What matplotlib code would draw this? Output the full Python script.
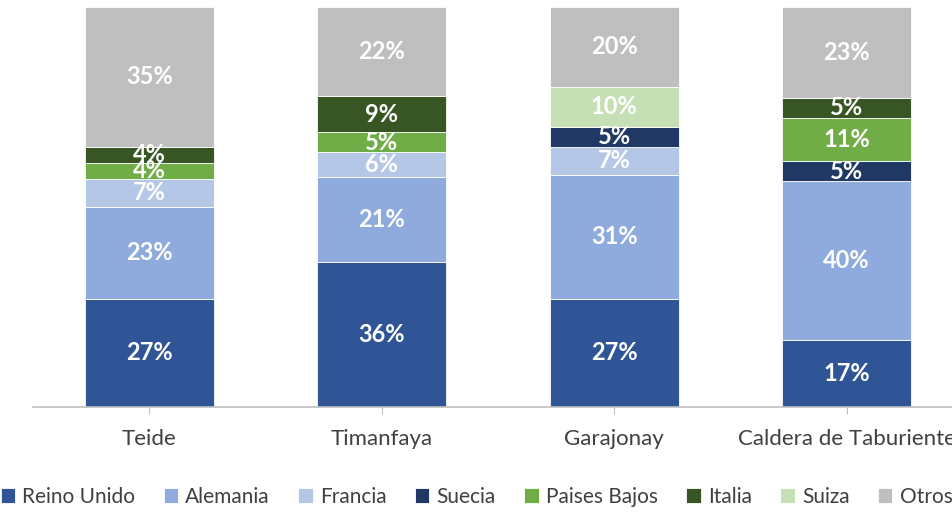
import numpy as np
import matplotlib.pyplot as plt

plt.rcParams['font.family'] = ['Lato', 'DejaVu Sans']

parques = ['Teide', 'Timanfaya', 'Garajonay', 'Caldera de Taburiente']
paises = ['Reino Unido', 'Alemania', 'Francia', 'Suecia', 'Paises Bajos', 'Italia', 'Suiza', 'Otros']

reino_unido = [27, 36, 27, 17]
alemania = [23, 21, 31, 40]
francia = [7, 6, 7, 0]
suecia = [0, 0, 5, 5]
paises_bajos = [4, 5, 0, 11]
italia = [4, 9, 0, 5]
suiza = [0, 0, 10, 0]
otros = [35, 22, 20, 23]

colores = ['#2F5597', '#8FAADC', '#B4C7E7', '#203864', '#70AD47', '#375623', '#C5E0B4', '#BFBFBF']

series = np.array([reino_unido, alemania, francia, suecia, paises_bajos, italia, suiza, otros], dtype=float)
# 100% stacked: each bar scaled to its own total
share = series / series.sum(axis=0) * 100

fig = plt.figure(figsize=(9.53, 5.13), dpi=100)
ax = fig.add_axes([33 / 953, 106 / 513, 930 / 953, 400 / 513])

x = np.arange(len(parques))
bottom = np.zeros(len(parques))
for i, nombre in enumerate(paises):
    ax.bar(x, share[i], 0.555, bottom=bottom, color=colores[i], label=nombre,
           edgecolor='white', linewidth=0.6)
    for j in range(len(parques)):
        if series[i, j] > 0:
            ax.text(x[j], bottom[j] + share[i, j] / 2, f'{int(series[i, j])}%',
                    ha='center', va='center', color='white', fontsize=17, fontweight='bold')
    bottom += share[i]

ax.set_xlim(-0.5, 3.5)
ax.set_ylim(0, 100)
ax.set_yticks([])
for s in ['top', 'right', 'left']:
    ax.spines[s].set_visible(False)
ax.spines['bottom'].set_color('#BFBFBF')
ax.spines['bottom'].set_linewidth(1.2)
ax.set_xticks(x)
ax.set_xticklabels(parques, fontsize=16, color='#404040')
ax.tick_params(axis='x', colors='#BFBFBF', labelcolor='#404040', length=5, pad=11)

fig.legend(loc='center', bbox_to_anchor=(0.5, 16 / 513), ncol=8, frameon=False,
           fontsize=15, labelcolor='#404040', handlelength=0.7, handleheight=0.7,
           handletextpad=0.35, columnspacing=1.35, borderaxespad=0)

plt.savefig('out.png', dpi=100)
